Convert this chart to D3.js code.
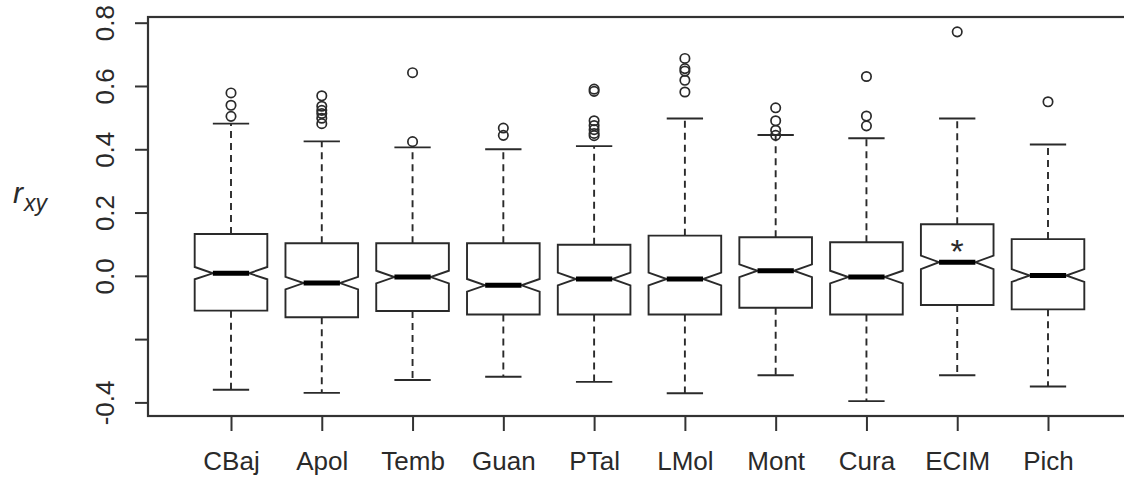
<!DOCTYPE html>
<html>
<head>
<meta charset="utf-8">
<script src="https://cdn.jsdelivr.net/npm/d3@7"></script>
<style>
  html, body { margin: 0; padding: 0; background: #fff; }
  svg { display: block; }
  text { font-family: "Liberation Sans", Arial, sans-serif; fill: #2a2a2a; }
</style>
</head>
<body>
<svg id="chart" width="1124" height="481"></svg>
<script>
// ---- data ----
const categories   = ["CBaj","Apol","Temb","Guan","PTal","LMol","Mont","Cura","ECIM","Pich"];
const lowerWhisker = [-0.360,-0.370,-0.329,-0.319,-0.335,-0.371,-0.314,-0.396,-0.314,-0.350];
const q1           = [-0.110,-0.131,-0.111,-0.122,-0.122,-0.122,-0.101,-0.122,-0.092,-0.106];
const median       = [ 0.008,-0.023,-0.004,-0.030,-0.010,-0.010, 0.016,-0.004, 0.043, 0.001];
const q3           = [ 0.132, 0.103, 0.103, 0.103, 0.098, 0.127, 0.122, 0.106, 0.163, 0.116];
const upperWhisker = [ 0.481, 0.425, 0.406, 0.400, 0.410, 0.497, 0.445, 0.435, 0.497, 0.415];
const notchLow     = [-0.011,-0.043,-0.024,-0.050,-0.030,-0.030,-0.004,-0.024, 0.021,-0.019];
const notchHigh    = [ 0.028,-0.003, 0.016,-0.010, 0.010, 0.010, 0.036, 0.016, 0.064, 0.021];
const outliers = [
  [0.578, 0.539, 0.504],
  [0.569, 0.536, 0.523, 0.513, 0.498, 0.481],
  [0.642, 0.424],
  [0.467, 0.444],
  [0.590, 0.583, 0.490, 0.475, 0.462, 0.450, 0.443],
  [0.687, 0.655, 0.647, 0.618, 0.581],
  [0.531, 0.490, 0.460, 0.444],
  [0.630, 0.505, 0.474],
  [0.771],
  [0.550]
];
const yTickValues = [-0.4, -0.2, 0.0, 0.2, 0.4, 0.6, 0.8];
const yTickLabels = ["-0.4", "", "0.0", "0.2", "0.4", "0.6", "0.8"];
const starCategory = "ECIM";
const starValue = 0.087;

// ---- layout ----
const svg = d3.select("#chart");
const frameL = 148, frameT = 17, frameB = 416, frameR = 1130;
const ink = "#2a2a2a";
const lw = 1.9;

const x = d3.scalePoint().domain(categories).range([149.3, 1129.7]).padding(0.9);
const step = x.step();
const y = d3.scaleLinear().domain([-0.443, 0.818]).range([frameB, frameT]);

const boxW = step * 0.8;
const halfW = boxW / 2;
const notchW = boxW / 4;
const capW = boxW / 4;

// frame (right edge falls outside the picture)
svg.append("rect")
  .attr("x", frameL).attr("y", frameT)
  .attr("width", frameR - frameL).attr("height", frameB - frameT)
  .attr("fill", "none").attr("stroke", "#333").attr("stroke-width", 2.2);

// y axis
const yAxis = d3.axisLeft(y).tickValues(yTickValues)
  .tickFormat((d, i) => yTickLabels[i]).tickSize(13).tickPadding(0);
const yg = svg.append("g").attr("transform", `translate(${frameL},0)`).call(yAxis);
yg.select(".domain").remove();
yg.selectAll(".tick line").attr("stroke", "#333").attr("stroke-width", 2);
yg.selectAll(".tick text")
  .attr("x", null).attr("dy", null)
  .attr("text-anchor", "middle")
  .attr("transform", "translate(-34,0) rotate(-90)")
  .style("font-family", "'Liberation Sans', Arial, sans-serif")
  .style("font-size", "26px").attr("fill", "#333");

// x axis
const xAxis = d3.axisBottom(x).tickSize(15).tickPadding(21);
const xg = svg.append("g").attr("transform", `translate(0,${frameB})`).call(xAxis);
xg.select(".domain").remove();
xg.selectAll(".tick line").attr("stroke", "#333").attr("stroke-width", 2);
xg.selectAll(".tick text")
  .style("font-family", "'Liberation Sans', Arial, sans-serif")
  .style("font-size", "26px").attr("fill", "#333");

// y label r_xy
const lab = svg.append("text").attr("x", 13).attr("y", 203)
  .style("font-style", "italic").style("font-size", "30px").attr("fill", "#333");
lab.append("tspan").text("r");
lab.append("tspan").attr("dy", 8).attr("dx", 1).style("font-size", "23px").text("xy");

// boxes
const g = svg.append("g");
categories.forEach((c, i) => {
  const cx = x(c);
  // whiskers
  g.append("line").attr("x1", cx).attr("x2", cx)
    .attr("y1", y(q3[i])).attr("y2", y(upperWhisker[i]))
    .attr("stroke", ink).attr("stroke-width", lw).attr("stroke-dasharray", "7,5");
  g.append("line").attr("x1", cx).attr("x2", cx)
    .attr("y1", y(q1[i])).attr("y2", y(lowerWhisker[i]))
    .attr("stroke", ink).attr("stroke-width", lw).attr("stroke-dasharray", "7,5");
  // caps
  [upperWhisker[i], lowerWhisker[i]].forEach(v => {
    g.append("line").attr("x1", cx - capW).attr("x2", cx + capW)
      .attr("y1", y(v)).attr("y2", y(v))
      .attr("stroke", ink).attr("stroke-width", lw);
  });
  // notched box
  const pts = [
    [cx - halfW, y(q1[i])], [cx - halfW, y(notchLow[i])], [cx - notchW, y(median[i])],
    [cx - halfW, y(notchHigh[i])], [cx - halfW, y(q3[i])], [cx + halfW, y(q3[i])],
    [cx + halfW, y(notchHigh[i])], [cx + notchW, y(median[i])], [cx + halfW, y(notchLow[i])],
    [cx + halfW, y(q1[i])]
  ];
  g.append("path").attr("d", d3.line()(pts) + "Z")
    .attr("fill", "#fff").attr("stroke", ink).attr("stroke-width", lw)
    .attr("stroke-linejoin", "miter");
  // median
  g.append("line").attr("x1", cx - notchW).attr("x2", cx + notchW)
    .attr("y1", y(median[i])).attr("y2", y(median[i]))
    .attr("stroke", "#000").attr("stroke-width", 5);
  // outliers
  outliers[i].forEach(v => {
    g.append("circle").attr("cx", cx).attr("cy", y(v)).attr("r", 4.7)
      .attr("fill", "none").attr("stroke", ink).attr("stroke-width", 1.7);
  });
});

// significance asterisk
svg.append("text").attr("x", x(starCategory)).attr("y", y(starValue) + 15)
  .attr("text-anchor", "middle").style("font-size", "34px").attr("fill", "#222").text("*");
</script>
</body>
</html>
